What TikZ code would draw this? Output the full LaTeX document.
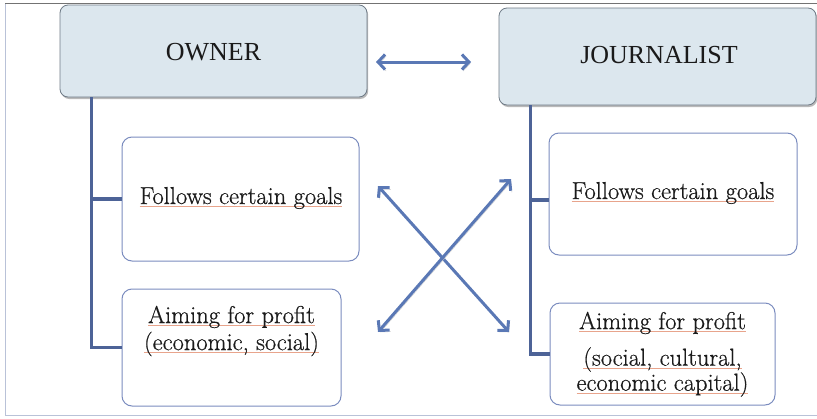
\documentclass[tikz,border=0pt]{standalone}
\usepackage{fontspec}
\newfontfamily\hdfont{Liberation Serif}
\newfontfamily\bodyfont[FakeBold=0.6]{Latin Modern Roman}
\usetikzlibrary{arrows.meta,shadows,calc}
\definecolor{hdfill}{HTML}{DCE7EE}
\definecolor{hdline}{HTML}{6E7A86}
\definecolor{bxline}{HTML}{7B8CBF}
\definecolor{conn}{HTML}{4D6397}
\definecolor{arrc}{HTML}{5A78B5}
\definecolor{sqc}{HTML}{E8A48C}
\definecolor{frm}{HTML}{B9C2D8}
\definecolor{txt}{HTML}{1A1A1A}
\newcommand\sql[1]{\setbox0\hbox{#1}\rlap{\color{sqc}\rule[-3pt]{\wd0}{0.8pt}}\box0}
\tikzset{
  hdbox/.style={draw=hdline, line width=0.8pt, fill=hdfill, rounded corners=8pt,
    drop shadow={opacity=0.55, shadow xshift=1.2pt, shadow yshift=-2pt}, inner sep=0pt},
  hdtxt/.style={font=\hdfont\fontsize{26}{30}\selectfont, text=txt, inner sep=0pt},
  subbox/.style={draw=bxline, line width=1pt, fill=white, rounded corners=10pt, inner sep=0pt},
  bodytxt/.style={font=\bodyfont\fontsize{24.5}{28}\selectfont, text=txt, align=center, inner sep=0pt},
  connline/.style={draw=conn, line width=3.5pt},
  biarrow/.style={draw=arrc, line width=3pt,
    {Straight Barb[length=7pt,width=15pt,line width=3pt]}-{Straight Barb[length=7pt,width=15pt,line width=3pt]},
    preaction={draw=black!22, transform canvas={shift={(1.2pt,-1.6pt)}}}},
}
\begin{document}
\begin{tikzpicture}[x=1pt,y=-1pt]
\useasboundingbox (0,0) rectangle (817,418);
% frame
\draw[frm, line width=1pt] (830,415) -- (5,415) -- (5,3);
\draw[black!55, line width=1pt] (5,3) -- (830,3);

% header boxes
\node[hdbox, minimum width=307pt, minimum height=92pt] (owner) at (213.5,51) {};
\node[hdtxt] (ownert) at (213.5,52) {OWNER};
\node[hdbox, minimum width=317pt, minimum height=97pt] (journ) at (657.5,56.5) {};
\node[hdtxt] (journt) at (659,55) {JOURNALIST};

% sub boxes
\node[subbox, minimum width=237pt, minimum height=124pt] (og) at (240.5,199) {};
\node[bodytxt] (ogt) at (241,198) {\sql{Follows certain goals}};
\node[subbox, minimum width=219pt, minimum height=117pt] (op) at (231.5,347.5) {};
\node[bodytxt] (opt) at (231.5,331) {\sql{Aiming for profit}\\[-1pt]\sql{(economic, social)}};
\node[subbox, minimum width=248pt, minimum height=122pt] (jg) at (673,194) {};
\node[bodytxt] (jgt) at (673,193) {\sql{Follows certain goals}};
\node[subbox, minimum width=225pt, minimum height=102pt] (jp) at (662.5,354) {};
\node[bodytxt] (jpt1) at (662.5,323) {\sql{Aiming for profit}};
\node[bodytxt] (jpt2) at (662.5,372) {\sql{(social, cultural,}\\[-3pt]\sql{economic capital)}};

% connectors (tree lines)
\coordinate (ol) at ($(owner.south west)+(32,0)$);
\draw[connline] (ol) |- (op.west);
\draw[connline] (ol |- og.west) -- (og.west);
\coordinate (jl) at ($(journ.south west)+(32,0)$);
\coordinate (jb) at ($(jg.west)+(0,6)$);
\draw[connline] (jl) |- (jp.west);
\draw[connline] (jl |- jb) -- (jb);

% arrows
\coordinate (ta) at (376,62);
\coordinate (tb) at (471,62);
\draw[biarrow] (ta) -- (tb);
\coordinate (ul) at (378,186);
\coordinate (lr) at (509,332);
\coordinate (ur) at (511,179);
\coordinate (ll) at (378,332);
\draw[biarrow] (ul) -- (lr);
\draw[biarrow] (ur) -- (ll);
\end{tikzpicture}
\end{document}
